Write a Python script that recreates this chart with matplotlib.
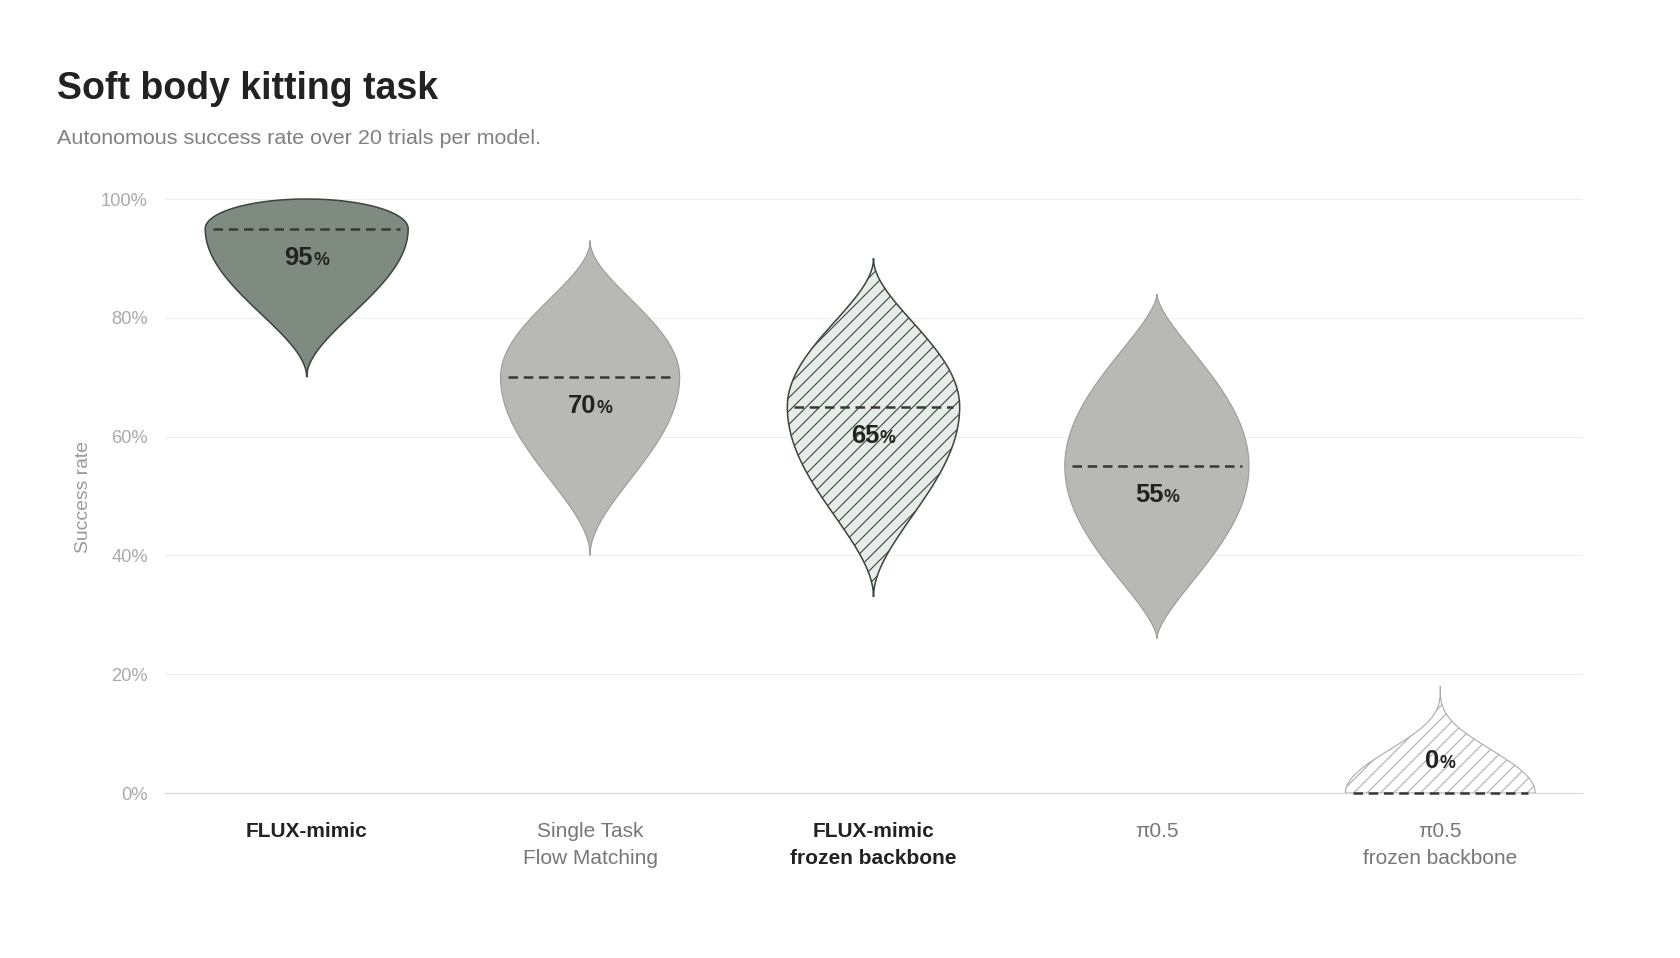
import numpy as np
import matplotlib
matplotlib.use('Agg')
import matplotlib.pyplot as plt
from matplotlib.transforms import offset_copy

# data
models = ['FLUX-mimic', 'Single Task\nFlow Matching', 'FLUX-mimic\nfrozen backbone',
          'π0.5', 'π0.5\nfrozen backbone']
success = [95, 70, 65, 55, 0]        # median / reported success rate (%)
low_end = [70, 40, 33, 26, 0]        # lower tip of each violin (%)
high_end = [100, 93, 90, 84, 18]     # upper tip of each violin (%)
yticks = [0, 20, 40, 60, 80, 100]

# styling
DPI = 80
W, H = 1680, 958
half_width = [0.358, 0.316, 0.304, 0.325, 0.335]
shape_lo = [2.0, 2.0, 2.0, 1.6, 2.0]
shape_hi = [0.5, 2.0, 2.0, 1.6, 3.5]
fills = ['#7f8b80', '#b8b9b4', '#e6ece7', '#b8b9b4', '#ffffff']
edges = ['#3c463e', '#9c9d98', '#3c463e', '#9c9d98', '#ababab']
edge_w = [1.4, 1.0, 1.4, 1.0, 1.0]
hatches = [None, None, '//', None, '//']
bold = [True, False, True, False, False]

plt.rcParams['font.family'] = ['Liberation Sans', 'DejaVu Sans']
plt.rcParams['hatch.linewidth'] = 1.0

fig = plt.figure(figsize=(W / DPI, H / DPI), dpi=DPI)
ax = fig.add_axes([165 / W, 1 - 793 / H, 1417 / W, 594 / H])
ax.set_xlim(-0.5, len(models) - 0.5)
ax.set_ylim(0, 100)


def profile(m, lo, hi, k_lo, k_hi):
    # width profile of a violin, 1 at the median, tapering to the tips
    if m > lo:
        y1 = np.linspace(lo, m, 200)
        w1 = np.clip(1 - ((m - y1) / (m - lo)) ** 2, 0, 1) ** k_lo
    else:
        y1, w1 = np.array([m]), np.array([1.0])
    y2 = np.linspace(m, hi, 200)[1:]
    w2 = np.clip(1 - ((y2 - m) / (hi - m)) ** 2, 0, 1) ** k_hi
    return np.concatenate([y1, y2]), np.concatenate([w1, w2])


renderer = fig.canvas.get_renderer()

for i, m in enumerate(success):
    y, w = profile(m, low_end[i], high_end[i], shape_lo[i], shape_hi[i])
    hw = half_width[i]
    xs = np.concatenate([i - hw * w, (i + hw * w)[::-1]])
    ys = np.concatenate([y, y[::-1]])
    ax.fill(xs, ys, facecolor=fills[i], edgecolor=edges[i], lw=edge_w[i],
            hatch=hatches[i], zorder=2, clip_on=False)

    # median line
    ax.plot([i - 0.92 * hw, i + 0.92 * hw], [m, m], color='#383838', lw=2.25,
            ls=(0, (3.8, 2.3)), zorder=3, clip_on=False)

    # value label: big number + small percent sign, centred together
    dy = 25 if m - low_end[i] < 10 else -36
    t1 = ax.text(i, m, f'{m}', fontsize=23, fontweight='bold', color='#222222',
                 ha='left', va='baseline', zorder=4)
    t2 = ax.text(i, m, '%', fontsize=16, fontweight='bold', color='#222222',
                 ha='left', va='baseline', zorder=4)
    w1 = t1.get_window_extent(renderer).width
    w2 = t2.get_window_extent(renderer).width
    gap = 0
    start = -(w1 + w2 + gap) / 2
    t1.set_transform(offset_copy(ax.transData, fig, x=start, y=dy, units='dots'))
    t2.set_transform(offset_copy(ax.transData, fig, x=start + w1 + gap, y=dy, units='dots'))

# axes styling
ax.set_yticks(yticks, [f'{t}%' for t in yticks])
ax.set_xticks(range(len(models)), models)
ax.tick_params(axis='y', length=0, pad=15.3, labelsize=16.5, labelcolor='#aaaaaa')
ax.tick_params(axis='x', length=0, pad=26, labelsize=18.8)
for lbl, b in zip(ax.get_xticklabels(), bold):
    lbl.set_fontweight('bold' if b else 'normal')
    lbl.set_color('#222222' if b else '#777777')
    lbl.set_linespacing(1.53)

ax.yaxis.grid(True, color='#eeeeee', lw=0.9)
ax.set_axisbelow(True)
for side in ['top', 'right', 'left']:
    ax.spines[side].set_visible(False)
ax.spines['bottom'].set_color('#d9d9d9')
ax.spines['bottom'].set_linewidth(1.1)

fig.text(57 / W, 1 - 99 / H, 'Soft body kitting task', fontsize=33.8,
         fontweight='bold', color='#222222', va='baseline')
fig.text(57 / W, 1 - 144 / H, 'Autonomous success rate over 20 trials per model.',
         fontsize=19.3, color='#808080', va='baseline')
fig.text(84 / W, 1 - 497 / H, 'Success rate', rotation=90, ha='center', va='center',
         fontsize=17.3, color='#9a9a9a')

fig.savefig('out.png', dpi=DPI, facecolor='white')
